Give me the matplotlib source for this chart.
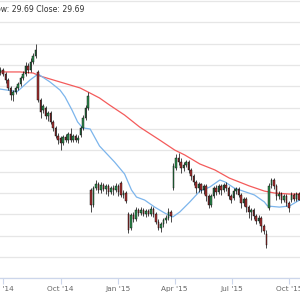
import pandas as pd
import matplotlib
matplotlib.use('Agg')
import matplotlib.pyplot as plt
import matplotlib.dates as mdates

# candles, one every 4 days from 27 Jun 2014
start = '2014-06-27'
opens = [35.67, 35.76, 35.57, 35.29, 34.92, 34.59, 34.73, 34.92, 35.11, 35.39,
         35.57, 35.95, 35.76, 36.14, 36.42, 35.67, 34.36, 33.89, 33.98, 33.61,
         33.75, 33.33, 33.05, 32.67, 32.58, 32.34, 32.62, 32.48, 32.76, 32.48,
         32.67, 32.48, 32.72, 33.05, 33.51, 33.98, 30.14, 29.44, 30.23, 30.42,
         30.14, 30.38, 30.19, 30.33, 30.05, 30.23, 30.14, 30.33, 30.47, 29.91,
         30.00, 29.02, 28.36, 28.97, 28.78, 29.20, 29.06, 29.20, 29.02, 29.16,
         29.02, 29.25, 29.02, 28.64, 28.36, 28.55, 28.74, 28.83, 29.11, 30.23,
         31.17, 31.64, 31.45, 31.17, 31.31, 31.45, 31.08, 30.80, 30.52, 30.23,
         30.42, 30.14, 30.33, 29.86, 29.44, 29.86, 30.23, 30.05, 30.33, 30.14,
         30.38, 30.23, 29.86, 29.77, 30.09, 30.19, 29.91, 29.53, 29.72, 29.34,
         29.11, 29.20, 28.92, 28.69, 28.83, 28.45, 28.08, 29.30, 30.38, 30.61,
         30.33, 29.86, 29.95, 29.67, 29.86, 29.53, 29.67, 29.91, 29.72, 29.95]
closes = [35.76, 35.57, 35.29, 34.92, 34.59, 34.73, 34.92, 35.11, 35.39, 35.57,
          35.95, 35.76, 36.14, 36.42, 36.70, 34.36, 33.79, 34.08, 33.61, 33.75,
          33.33, 33.05, 32.67, 32.48, 32.34, 32.62, 32.48, 32.76, 32.48, 32.67,
          32.48, 32.58, 33.05, 33.51, 33.98, 34.54, 29.44, 30.23, 30.42, 30.14,
          30.38, 30.19, 30.33, 30.05, 30.23, 30.14, 30.33, 30.05, 29.91, 30.00,
          29.63, 28.27, 28.97, 28.78, 29.20, 29.06, 29.20, 29.02, 29.16, 29.02,
          29.25, 29.02, 28.64, 28.36, 28.55, 28.74, 28.83, 29.11, 28.92, 31.27,
          31.64, 31.45, 31.17, 31.31, 31.45, 31.08, 30.80, 30.52, 30.23, 30.42,
          30.14, 30.33, 29.86, 29.44, 29.86, 30.23, 30.05, 30.33, 30.14, 30.38,
          30.23, 29.86, 29.67, 30.09, 30.19, 29.91, 29.53, 29.72, 29.34, 29.11,
          29.20, 28.92, 28.69, 28.83, 28.45, 28.22, 27.56, 30.33, 30.61, 30.33,
          29.86, 29.95, 29.67, 29.86, 29.53, 29.30, 29.91, 29.72, 29.95, 29.69]
highs = [35.90, 35.86, 35.67, 35.39, 35.01, 34.82, 35.01, 35.20, 35.48, 35.71,
         36.14, 36.09, 36.32, 36.56, 36.98, 35.76, 34.45, 34.17, 34.08, 33.84,
         33.84, 33.42, 33.14, 32.81, 32.67, 32.72, 32.76, 32.86, 33.05, 32.76,
         32.76, 32.72, 33.14, 33.65, 34.12, 34.73, 30.23, 30.33, 30.61, 30.52,
         30.52, 30.47, 30.42, 30.42, 30.33, 30.38, 30.47, 30.42, 30.56, 30.14,
         30.09, 29.11, 29.06, 29.11, 29.34, 29.30, 29.34, 29.30, 29.25, 29.25,
         29.39, 29.34, 29.11, 28.78, 28.64, 28.83, 28.97, 29.30, 29.20, 31.41,
         31.83, 31.87, 31.64, 31.45, 31.55, 31.55, 31.17, 30.89, 30.61, 30.52,
         30.47, 30.42, 30.42, 29.95, 29.95, 30.33, 30.38, 30.42, 30.42, 30.47,
         30.52, 30.33, 29.95, 30.23, 30.28, 30.28, 30.00, 29.81, 29.81, 29.44,
         29.30, 29.30, 29.02, 28.97, 28.92, 28.55, 28.27, 30.47, 30.70, 30.70,
         30.42, 30.09, 30.05, 29.95, 29.95, 29.63, 30.05, 30.00, 30.05, 30.05]
lows = [35.53, 35.48, 35.15, 34.82, 34.36, 34.31, 34.64, 34.82, 35.01, 35.29,
        35.48, 35.62, 35.67, 36.04, 36.32, 34.26, 33.51, 33.75, 33.47, 33.37,
        33.23, 32.90, 32.58, 32.30, 32.01, 32.25, 32.39, 32.34, 32.39, 32.39,
        32.39, 32.34, 32.62, 32.95, 33.42, 33.89, 29.11, 29.34, 30.14, 30.00,
        30.00, 30.09, 29.95, 29.86, 29.95, 29.91, 30.05, 29.86, 29.81, 29.77,
        29.53, 28.13, 28.27, 28.64, 28.69, 28.92, 28.97, 28.92, 28.88, 28.92,
        28.92, 28.88, 28.55, 28.27, 28.17, 28.41, 28.59, 28.74, 28.64, 30.14,
        31.08, 31.31, 30.94, 31.03, 31.22, 30.94, 30.61, 30.38, 30.00, 30.05,
        30.00, 29.95, 29.63, 29.30, 29.34, 29.77, 29.91, 29.95, 29.91, 30.05,
        30.09, 29.72, 29.53, 29.67, 29.95, 29.81, 29.30, 29.39, 29.11, 28.83,
        28.74, 28.78, 28.55, 28.59, 28.17, 28.08, 27.42, 29.20, 30.23, 30.19,
        29.67, 29.72, 29.53, 29.58, 29.39, 29.11, 29.58, 29.63, 29.63, 29.69]

# moving averages
slow_dates = ['2014-06-26', '2014-07-28', '2014-08-18', '2014-08-29', '2014-09-30',
              '2014-11-01', '2014-11-17', '2014-12-02', '2014-12-18', '2015-01-11',
              '2015-02-04', '2015-03-08', '2015-04-01', '2015-04-17', '2015-05-11',
              '2015-06-04', '2015-06-27', '2015-07-29', '2015-08-22', '2015-09-07',
              '2015-10-01', '2015-10-18']
slow_vals = [35.67, 35.67, 35.62, 35.48, 35.20, 34.92, 34.68, 34.45, 34.12, 33.65,
             33.09, 32.48, 32.01, 31.78, 31.36, 31.08, 30.70, 30.33, 30.09, 30.00,
             29.95, 29.95]
fast_dates = ['2014-06-26', '2014-07-17', '2014-07-23', '2014-08-13', '2014-08-26',
              '2014-09-14', '2014-09-30', '2014-10-08', '2014-10-19', '2014-10-28',
              '2014-11-05', '2014-11-17', '2014-12-02', '2014-12-26', '2015-01-11',
              '2015-01-22', '2015-01-30', '2015-02-12', '2015-02-28', '2015-03-16',
              '2015-03-29', '2015-04-09', '2015-04-25', '2015-05-11', '2015-05-27',
              '2015-06-12', '2015-06-20', '2015-07-05', '2015-08-06', '2015-08-22',
              '2015-08-27', '2015-09-15', '2015-10-01', '2015-10-17']
fast_vals = [34.87, 34.78, 34.73, 35.29, 35.57, 35.20, 34.82, 34.50, 33.89, 33.33,
             33.05, 33.00, 32.20, 31.45, 30.89, 30.14, 29.81, 29.67, 29.34, 29.06,
             28.88, 29.11, 29.58, 30.09, 30.28, 30.61, 30.52, 30.23, 29.91, 29.58,
             29.39, 29.34, 29.39, 29.67]

tick_dates = ['2014-07-01', '2014-10-01', '2015-01-01', '2015-04-01', '2015-07-01', '2015-10-01']
tick_labels = ["Jul '14", "Oct '14", "Jan '15", "Apr '15", "Jul '15", "Oct '15"]

dates = pd.date_range(start, periods=len(opens), freq='4D')
x = mdates.date2num(dates)

fig = plt.figure(figsize=(3, 3), dpi=100)
ax = fig.add_axes([0, 0.072, 1, 0.928])

ax.plot(mdates.date2num(pd.to_datetime(slow_dates)), slow_vals, color='#f45b5b', lw=0.9, zorder=2)
ax.plot(mdates.date2num(pd.to_datetime(fast_dates)), fast_vals, color='#7cb5ec', lw=0.9, zorder=2)

w = 2.4
for xi, o, c, h, l in zip(x, opens, closes, highs, lows):
    ax.vlines(xi, l, h, color='black', lw=0.5, zorder=3)
    col = '#2f8f50' if c >= o else '#a83232'
    ax.bar(xi, abs(c - o) or 0.02, bottom=min(o, c), width=w, color=col,
           edgecolor='black', linewidth=0.3, zorder=4)

ax.set_ylim(26, 39.04)
ax.set_yticks(range(26, 40))
ax.set_xlim(mdates.date2num(pd.Timestamp('2014-06-26 05:00')), mdates.date2num(pd.Timestamp('2015-10-17 20:00')))
ax.grid(axis='y', color='#e6e6e6', lw=0.9)
ax.set_axisbelow(True)
ax.tick_params(axis='y', left=False, labelleft=False)
ax.set_xticks(mdates.date2num(pd.to_datetime(tick_dates)))
ax.set_xticklabels(tick_labels, fontsize=5.3, color='#666666')
ax.tick_params(axis='x', length=4.5, color='#ccd6eb', width=0.8, pad=1.2)
for s in ['left', 'right', 'top']:
    ax.spines[s].set_visible(False)
ax.spines['bottom'].set_color('#ccd6eb')
ax.spines['bottom'].set_linewidth(0.9)

fig.text(84 / 300, 1 - 10 / 300, 'Low: 29.69 Close: 29.69', ha='right', va='center',
         fontsize=5.6, color='#333333')

fig.savefig('out.png', dpi=100, facecolor='white')
